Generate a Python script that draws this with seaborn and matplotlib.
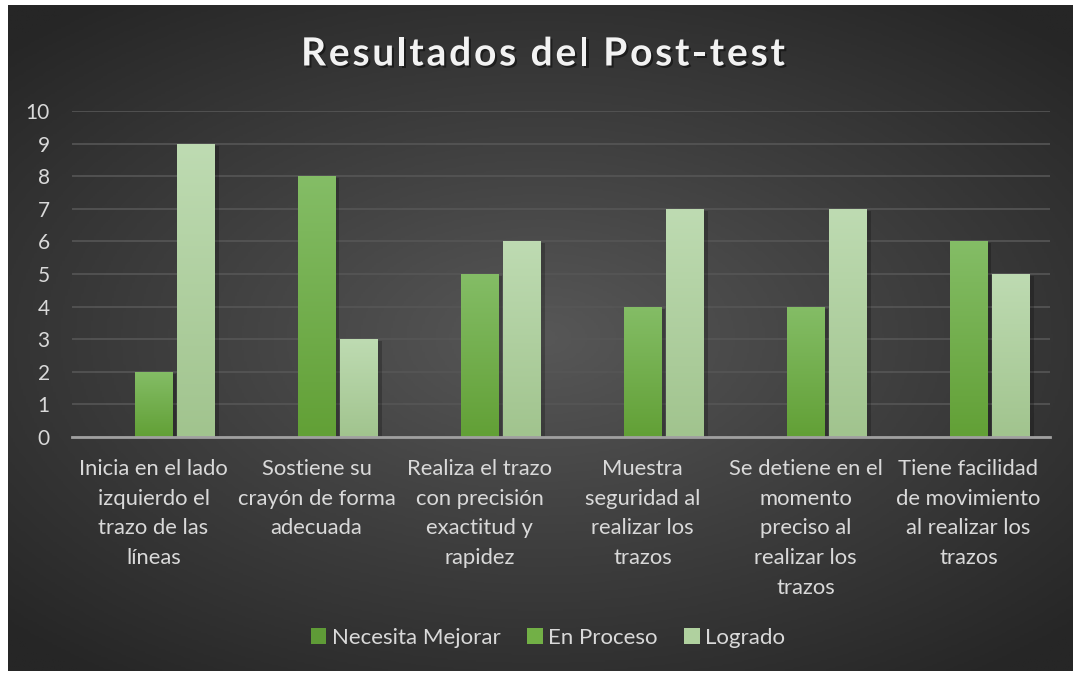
import numpy as np
import pandas as pd
import matplotlib.pyplot as plt
import matplotlib.patheffects as pe
from matplotlib.patches import Patch
from matplotlib.colors import LinearSegmentedColormap
import seaborn as sns

# Datos del gráfico
categorias = [
    "Inicia en el lado\nizquierdo el\ntrazo de las\nlíneas",
    "Sostiene su\ncrayón de forma\nadecuada",
    "Realiza el trazo\ncon precisión\nexactitud y\nrapidez",
    "Muestra\nseguridad al\nrealizar los\ntrazos",
    "Se detiene en el\nmomento\npreciso al\nrealizar los\ntrazos",
    "Tiene facilidad\nde movimiento\nal realizar los\ntrazos",
]
series = ["Necesita Mejorar", "En Proceso", "Logrado"]
necesita_mejorar = [0, 0, 0, 0, 0, 0]
en_proceso = [2, 8, 5, 4, 4, 6]
logrado = [9, 3, 6, 7, 7, 5]
yticks = [0, 1, 2, 3, 4, 5, 6, 7, 8, 9, 10]
titulo = "Resultados del Post-test"

colores = {"Necesita Mejorar": "#5f9b37", "En Proceso": "#72b046", "Logrado": "#b0d19f"}
gradientes = {
    "Necesita Mejorar": ("#4f8a2c", "#6fa84a"),
    "En Proceso": ("#62a036", "#84bd66"),
    "Logrado": ("#a1c48e", "#bedbb2"),
}

df = pd.DataFrame({
    "categoria": categorias * 3,
    "serie": [s for s in series for _ in categorias],
    "valor": necesita_mejorar + en_proceso + logrado,
})

plt.rcParams["font.family"] = ["Lato", "DejaVu Sans"]

W, H = 1078, 675
fig = plt.figure(figsize=(W / 100, H / 100), dpi=100, facecolor="white")

# fondo con degradado radial
bg = fig.add_axes([8 / W, 4 / H, 1065 / W, 666 / H], zorder=0)
yy, xx = np.mgrid[-1:1:300j, -1:1:480j]
r = np.sqrt((xx * 1.0) ** 2 + (yy * 1.1) ** 2)
bg_cmap = LinearSegmentedColormap.from_list("bg", ["#575757", "#3e3e3e", "#262626"])
bg.imshow(np.clip(r / 1.4, 0, 1), cmap=bg_cmap, aspect="auto", vmin=0, vmax=1)
bg.set_axis_off()

ax = fig.add_axes([72 / W, 1 - 437 / H, 978 / W, 326 / H], zorder=1)
ax.patch.set_alpha(0)

sns.barplot(data=df, x="categoria", y="valor", hue="serie", palette=colores,
            width=0.785, gap=0.11, ax=ax, legend=False, saturation=1)

# degradado en cada barra
for cont, s in zip(ax.containers, series):
    cmap = LinearSegmentedColormap.from_list(s, gradientes[s])
    for bar in cont:
        h = bar.get_height()
        if h <= 0:
            bar.set_visible(False)
            continue
        x0 = bar.get_x()
        x1 = x0 + bar.get_width()
        bar.set_edgecolor("none")
        bar.set_path_effects([pe.SimplePatchShadow(offset=(2.5, -1.5), shadow_rgbFace="black", alpha=0.22),
                              pe.Normal()])
        grad = np.linspace(1, 0, 100).reshape(-1, 1)
        im = ax.imshow(grad, cmap=cmap, aspect="auto", extent=[x0, x1, 0, h],
                       vmin=0, vmax=1, zorder=3)
        im.set_clip_path(bar)

ax.set_ylim(0, 10)
ax.set_xlim(-0.5, len(categorias) - 0.5)
ax.set_yticks(yticks)
ax.grid(axis="y", color="#565656", linewidth=1.2, zorder=0)
ax.set_axisbelow(True)
for sp in ["top", "right", "left"]:
    ax.spines[sp].set_visible(False)
ax.spines["bottom"].set_color("#a0a0a0")
ax.spines["bottom"].set_linewidth(2)
ax.spines["bottom"].set_zorder(4)
ax.tick_params(axis="both", length=0, colors="#d9d9d9")
ax.tick_params(axis="y", pad=16, labelsize=15)
ax.tick_params(axis="x", pad=16, labelsize=15.8)
for lbl in ax.get_xticklabels():
    lbl.set_linespacing(1.6)
    lbl.set_horizontalalignment("center")
ax.set_xlabel("")
ax.set_ylabel("")

# título con espaciado entre letras
renderer = fig.canvas.get_renderer()
tprops = dict(fontsize=28, fontweight="bold", color="#f2f2f2", va="center", ha="left")
anchos = []
for ch in titulo:
    t = fig.text(0, 0, ch if ch != " " else "a", **tprops)
    w = t.get_window_extent(renderer).width
    if ch == " ":
        w *= 0.45
    anchos.append(w)
    t.remove()
espacio = 2.8
total = sum(anchos) + espacio * (len(titulo) - 1)
x = 543 - total / 2
for ch, w in zip(titulo, anchos):
    if ch != " ":
        fig.text(x / W, 1 - 54 / H, ch,
                 path_effects=[pe.withSimplePatchShadow(offset=(1.5, -1.5), shadow_rgbFace="black", alpha=0.45)],
                 **tprops)
    x += w + espacio

handles = [Patch(facecolor=colores[s], edgecolor="none", label=s) for s in series]
fig.legend(handles=handles, loc="center", bbox_to_anchor=(548 / W, 1 - 638 / H), ncol=3,
           frameon=False, fontsize=16, labelcolor="#d9d9d9", handlelength=0.7,
           handleheight=0.7, handletextpad=0.25, columnspacing=1.2)

fig.savefig("out.png", dpi=100, facecolor="white")
